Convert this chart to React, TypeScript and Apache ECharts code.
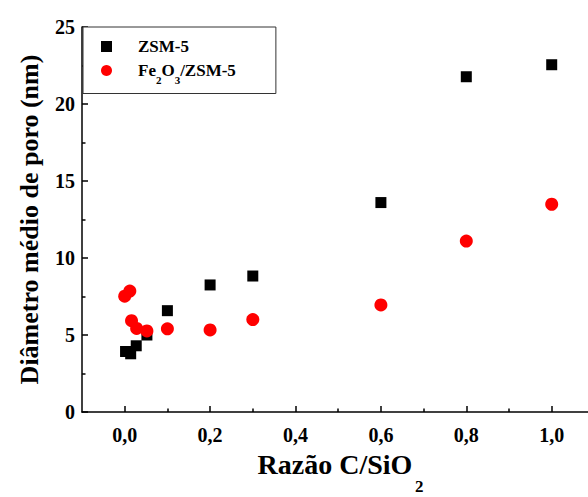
import React, { useEffect, useRef } from 'react';
import * as echarts from 'echarts';

const zsmX = [0.002, 0.014, 0.027, 0.052, 0.1, 0.2, 0.3, 0.6, 0.8, 1.0];
const zsmY = [3.93, 3.78, 4.3, 5.0, 6.58, 8.25, 8.83, 13.6, 21.77, 22.55];
const feX = [0.0, 0.012, 0.016, 0.028, 0.052, 0.1, 0.2, 0.3, 0.6, 0.8, 1.0];
const feY = [7.52, 7.85, 5.93, 5.43, 5.26, 5.4, 5.33, 6.0, 6.95, 11.1, 13.49];
const xMajorTicks = [0, 0.2, 0.4, 0.6, 0.8, 1.0];
const xMinorTicks = [0.1, 0.3, 0.5, 0.7, 0.9];
const seriesNames = ['ZSM-5', 'Fe2O3/ZSM-5'];

const FONT = 'Liberation Serif';

export default function App() {
  const ref = useRef<HTMLDivElement>(null);
  useEffect(() => {
    if (!ref.current) return;
    const chart = echarts.init(ref.current, null, { renderer: 'svg' });
    const axisCommon = {
      min: -0.1,
      max: 1.085,
      type: 'value' as const,
      splitLine: { show: false },
    };
    chart.setOption({
      animation: false,
      backgroundColor: '#fff',
      textStyle: { fontFamily: FONT },
      grid: { left: 82, right: 0, top: 27, bottom: 85, outerBoundsMode: 'none', containLabel: false },
      legend: {
        orient: 'vertical',
        left: 83,
        top: 27,
        width: 180,
        padding: [11, 40, 8, 18],
        itemGap: 7,
        itemWidth: 11,
        itemHeight: 11,
        borderColor: '#333',
        borderWidth: 1,
        backgroundColor: '#fff',
        data: [
          { name: seriesNames[0], icon: 'rect' },
          { name: seriesNames[1], icon: 'circle' },
        ],
        formatter: (name: string) =>
          name === 'Fe2O3/ZSM-5'
            ? '{b|Fe}{s|2}{b|O}{s|3}{b|/ZSM-5}'
            : '{b|ZSM-5}',
        textStyle: {
          fontFamily: FONT,
          padding: [0, 0, 0, 21],
          rich: {
            b: { fontSize: 17, fontWeight: 'bold', fontFamily: FONT, color: '#000', lineHeight: 18 },
            s: { fontSize: 11, fontWeight: 'bold', fontFamily: FONT, color: '#000', lineHeight: 12, verticalAlign: 'bottom', padding: [0, 0, -6, 0] },
          },
        },
      },
      graphic: [
        {
          type: 'text',
          left: 415,
          top: 478,
          silent: true,
          style: { text: '2', font: 'bold 17px "Liberation Serif"', fill: '#000' },
        },
      ],
      xAxis: [
        {
          ...axisCommon,
          position: 'bottom',
          name: 'Razão C/SiO',
          nameLocation: 'middle',
          nameGap: 18,
          nameTextStyle: {
            fontSize: 28,
            fontWeight: 'bold',
            fontFamily: FONT,
            color: '#000',
            lineHeight: 30,
          },
          axisLine: { show: true, onZero: false, lineStyle: { color: '#000', width: 1.5 } },
          axisTick: { show: true, inside: true, length: 6, customValues: xMajorTicks, lineStyle: { color: '#000', width: 1.5 } },
          axisLabel: {
            customValues: xMajorTicks,
            margin: 13,
            fontSize: 20,
            fontWeight: 'bold',
            fontFamily: FONT,
            color: '#000',
            formatter: (v: number) => v.toFixed(1).replace('.', ','),
          },
        },
        {
          ...axisCommon,
          position: 'bottom',
          axisLine: { show: false },
          axisLabel: { show: false },
          axisTick: { show: true, inside: true, length: 3.5, customValues: xMinorTicks, lineStyle: { color: '#000', width: 1.5 } },
        },
      ],
      yAxis: {
        type: 'value',
        min: 0,
        max: 25,
        interval: 5,
        name: 'Diâmetro médio de poro (nm)',
        nameLocation: 'middle',
        nameGap: 40,
        nameRotate: 90,
        nameTextStyle: { fontSize: 26, fontWeight: 'bold', fontFamily: FONT, color: '#000' },
        splitLine: { show: false },
        axisLine: { show: true, onZero: false, lineStyle: { color: '#000', width: 1.5 } },
        axisTick: { show: true, inside: true, length: 6, lineStyle: { color: '#000', width: 1.5 } },
        minorTick: { show: true, splitNumber: 2, length: 3.5, lineStyle: { color: '#000', width: 1.5 } },
        axisLabel: { margin: 7, fontSize: 20, fontWeight: 'bold', fontFamily: FONT, color: '#000' },
      },
      series: [
        {
          name: seriesNames[0],
          type: 'scatter',
          symbol: 'rect',
          symbolSize: 11,
          itemStyle: { color: '#000', opacity: 1 },
          data: zsmX.map((x, i) => [x, zsmY[i]]),
        },
        {
          name: seriesNames[1],
          type: 'scatter',
          symbol: 'circle',
          symbolSize: 13,
          itemStyle: { color: '#ff0000', opacity: 1 },
          data: feX.map((x, i) => [x, feY[i]]),
        },
      ],
    });
    return () => chart.dispose();
  }, []);
  return (
    <div
      ref={ref}
      style={{ position: 'absolute', left: 0, top: 0, width: 588, height: 497 }}
    />
  );
}
